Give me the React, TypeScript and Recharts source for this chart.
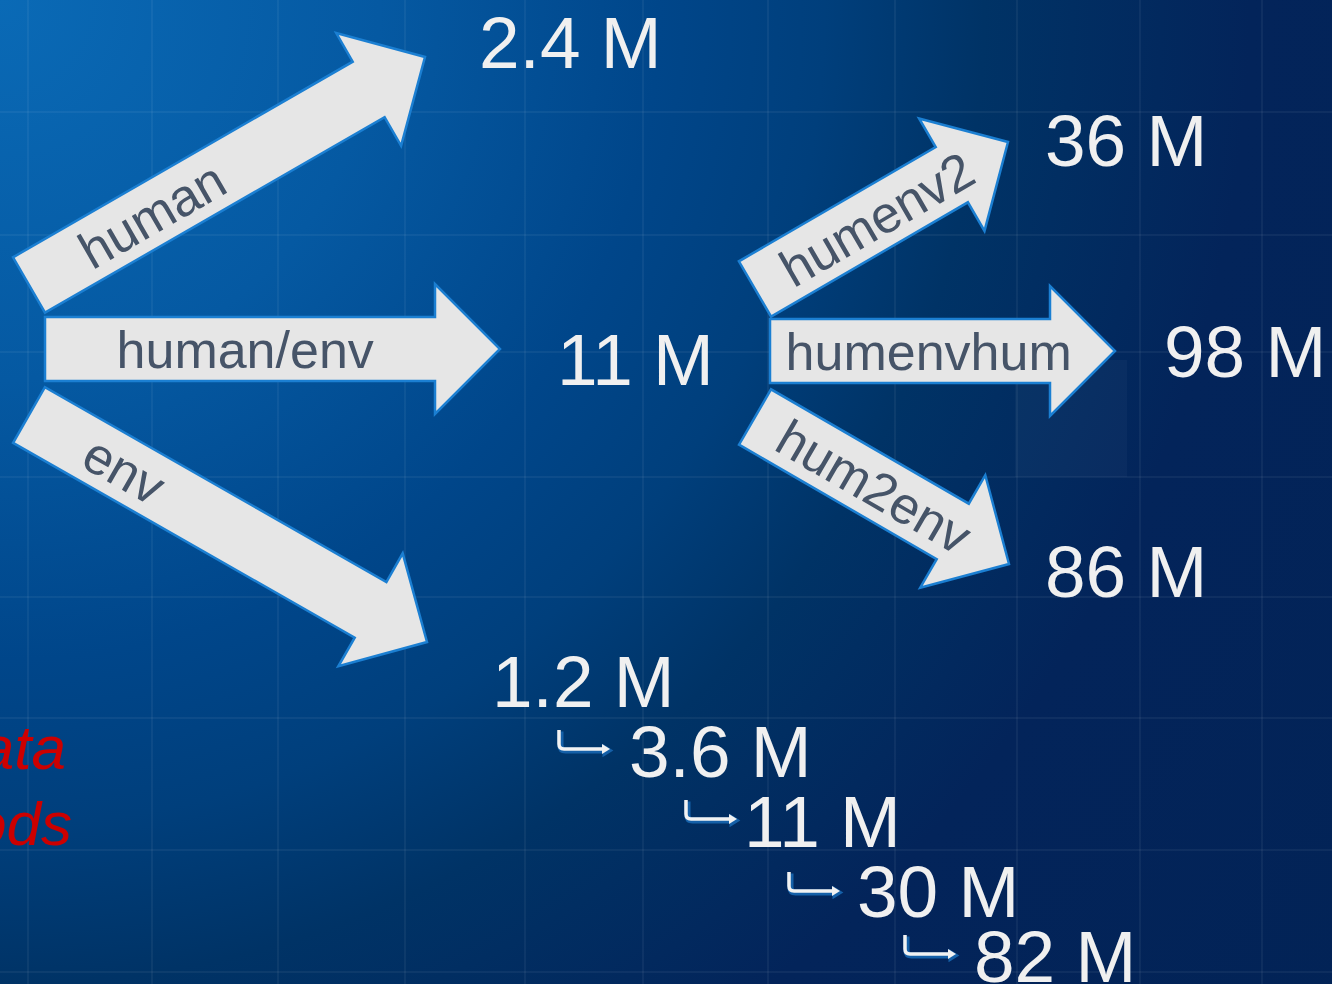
import React from 'react';
import { ScatterChart, Scatter, XAxis, YAxis, ReferenceLine, ReferenceArea } from 'recharts';

const W = 1332;
const H = 984;

// Flow arrows (tail centre -> tip), in slide coordinates
const arrowLabels = ['human', 'human/env', 'env', 'humenv2', 'humenvhum', 'hum2env'];
const arrowFromX = [29, 45, 29, 755, 770, 755];
const arrowFromY = [285, 349, 415, 289, 351, 417];
const arrowToX = [425, 500, 427, 1008, 1115, 1009];
const arrowToY = [57, 349, 642, 142, 351, 564];
const arrowLabelAt = [0.31, 0.44, 0.24, 0.48, 0.46, 0.47];

// Counts
const valueLabels = ['2.4 M', '36 M', '11 M', '98 M', '86 M', '1.2 M', '3.6 M', '11 M', '30 M', '82 M'];
const valueX = [479, 1045, 557, 1164, 1045, 492, 629, 744, 857, 974];
const valueY = [68, 166, 385, 377, 597, 707, 777, 847, 917, 982];

// Cascade hook arrows (top-left corner)
const hookX = [556, 683, 786, 902];
const hookY = [730, 800, 872, 935];

// Partially visible red notes
const noteLabels = ['ata', 'ods'];
const noteX = [66, 72];
const noteY = [769, 845];

// Faint background grid
const gridX = [28, 152, 278, 405, 525, 643, 768, 895, 1017, 1140, 1262];
const gridY = [112, 235, 352, 477, 597, 718, 850, 972];

const FONT = '"Liberation Sans", Arial, Helvetica, sans-serif';

const valueData = valueLabels.map((t, i) => ({ x: valueX[i], y: valueY[i], label: t }));
const hookData = hookX.map((x, i) => ({ x, y: hookY[i] }));
const noteData = noteLabels.map((t, i) => ({ x: noteX[i], y: noteY[i], label: t }));

function arrowShape(label: string, at: number) {
  return (p: any) => {
    const { x1, y1, x2, y2 } = p;
    const dx = x2 - x1;
    const dy = y2 - y1;
    const len = Math.hypot(dx, dy);
    const ux = dx / len;
    const uy = dy / len;
    const nx = -uy;
    const ny = ux;
    const sw = 32;
    const hw = 65;
    const hl = 65;
    const bx = x2 - ux * hl;
    const by = y2 - uy * hl;
    const pts = [
      [x1 + nx * sw, y1 + ny * sw],
      [bx + nx * sw, by + ny * sw],
      [bx + nx * hw, by + ny * hw],
      [x2, y2],
      [bx - nx * hw, by - ny * hw],
      [bx - nx * sw, by - ny * sw],
      [x1 - nx * sw, y1 - ny * sw],
    ]
      .map((q) => `${q[0].toFixed(1)},${q[1].toFixed(1)}`)
      .join(' ');
    const angle = (Math.atan2(dy, dx) * 180) / Math.PI;
    const cx = x1 + dx * at;
    const cy = y1 + dy * at;
    return (
      <g>
        <polygon points={pts} fill="#e6e6e6" stroke="#1b7fd2" strokeWidth={2.5} strokeLinejoin="miter" />
        <text
          x={cx}
          y={cy + 19}
          transform={`rotate(${angle.toFixed(2)} ${cx} ${cy})`}
          textAnchor="middle"
          fontSize={52}
          fill="#465468"
          fontFamily={FONT}
        >
          {label}
        </text>
      </g>
    );
  };
}

const ValueText = (p: any) => (
  <text x={p.cx} y={p.cy} fontSize={73} fill="#f0f0f0" fontFamily={FONT}>
    {p.payload.label}
  </text>
);

const NoteText = (p: any) => (
  <text x={p.cx} y={p.cy} fontSize={62} fill="#cc0000" fontStyle="italic" textAnchor="end" fontFamily={FONT}>
    {p.payload.label}
  </text>
);

const Hook = (p: any) => {
  const x = p.cx;
  const y = p.cy;
  const d = `M ${x + 3} ${y} L ${x + 3} ${y + 14} Q ${x + 3} ${y + 19} ${x + 8} ${y + 19} L ${x + 47} ${y + 19}`;
  const head = `${x + 46},${y + 14} ${x + 54},${y + 19} ${x + 46},${y + 24}`;
  return (
    <g>
      <path d={d} transform="translate(1.5,1.5)" stroke="#1560a8" strokeWidth={6} fill="none" />
      <polygon points={head} transform="translate(1.5,1.5)" fill="#1560a8" stroke="#1560a8" strokeWidth={2} />
      <path d={d} stroke="#f2f2f2" strokeWidth={3.5} fill="none" />
      <polygon points={head} fill="#f2f2f2" />
    </g>
  );
};

export default function App() {
  return (
    <div
      style={{
        position: 'absolute',
        left: 0,
        top: 0,
        width: W,
        height: H,
        overflow: 'hidden',
        background:
          'radial-gradient(circle at 0px 0px, #0a6ab6 0px, #0559a2 380px, #00468a 660px, #003f7c 825px, #003366 984px, #03245a 1250px, #022356 1700px)',
      }}
    >
      <ScatterChart width={W} height={H} margin={{ top: 0, right: 0, bottom: 0, left: 0 }}>
        <XAxis type="number" dataKey="x" domain={[0, W]} hide allowDataOverflow />
        <YAxis type="number" dataKey="y" domain={[0, H]} reversed hide allowDataOverflow />
        {gridX.map((v) => (
          <ReferenceLine key={'gx' + v} x={v} stroke="#ffffff" strokeOpacity={0.05} strokeWidth={2} />
        ))}
        {gridY.map((v) => (
          <ReferenceLine key={'gy' + v} y={v} stroke="#ffffff" strokeOpacity={0.05} strokeWidth={2} />
        ))}
        <ReferenceArea x1={1015} x2={1127} y1={360} y2={477} fill="#ffffff" fillOpacity={0.03} stroke="none" />
        {arrowLabels.map((lab, i) => (
          <ReferenceLine
            key={'a' + i}
            segment={[
              { x: arrowFromX[i], y: arrowFromY[i] },
              { x: arrowToX[i], y: arrowToY[i] },
            ]}
            shape={arrowShape(lab, arrowLabelAt[i])}
            ifOverflow="visible"
          />
        ))}
        <Scatter data={valueData} shape={ValueText} isAnimationActive={false} />
        <Scatter data={hookData} shape={Hook} isAnimationActive={false} />
        <Scatter data={noteData} shape={NoteText} isAnimationActive={false} />
      </ScatterChart>
    </div>
  );
}
